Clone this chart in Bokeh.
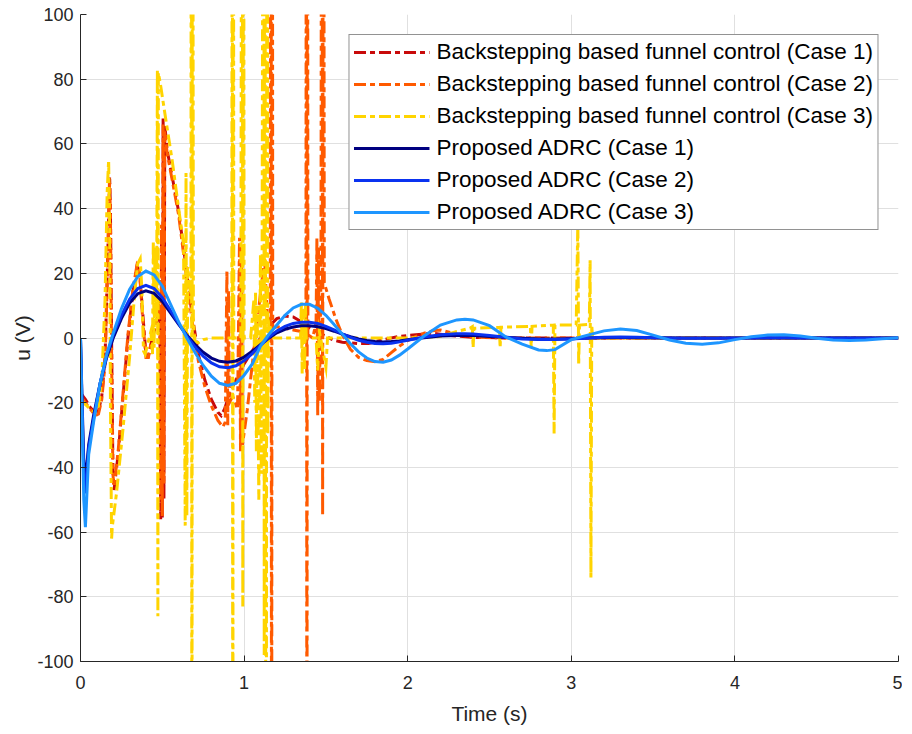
from bokeh.plotting import figure
from bokeh.models import Range1d, FixedTicker, Legend, LegendItem
from bokeh.embed import file_html
from bokeh.resources import INLINE

# ---------------- data ----------------
x_ticks = [0, 1, 2, 3, 4, 5]
y_ticks = [-100, -80, -60, -40, -20, 0, 20, 40, 60, 80, 100]
y_tick_labels = ["-100", "-80", "-60", "-40", "-20", "0", "20", "40", "60", "80", "100"]

labels = [
    "Backstepping based funnel control (Case 1)",
    "Backstepping based funnel control (Case 2)",
    "Backstepping based funnel control (Case 3)",
    "Proposed ADRC (Case 1)",
    "Proposed ADRC (Case 2)",
    "Proposed ADRC (Case 3)",
]

fc1_t = [0.00, 0.03, 0.06, 0.09, 0.11, 0.13, 0.15, 0.165, 0.178, 0.183, 0.19, 0.198, 0.205, 0.23, 0.26, 0.29,
         0.32, 0.345, 0.36, 0.38, 0.40, 0.415, 0.43, 0.45, 0.47, 0.485, 0.49, 0.495, 0.50, 0.505, 0.51, 0.515,
         0.53, 0.56, 0.60, 0.64, 0.68, 0.72, 0.76, 0.80, 0.84, 0.86, 0.88, 0.92, 0.96, 1.00, 1.05, 1.10, 1.15,
         1.20, 1.25, 1.30, 1.35, 1.40, 1.45, 1.50, 1.55, 1.60, 1.70, 1.76, 1.85, 1.95, 2.05, 2.15, 2.25, 2.40,
         2.60, 5.00]
fc1_u = [-17, -19, -21.5, -23, -22.5, -18, -6, 22, 50, 40, 0, -40, -47, -36, -18, 0,
         14, 22, 21, 8, -5, -5.5, -2, 2, 6, 10, -56, 30, -56, 68, -50, 66,
         58, 50, 39, 24, 8, -5, -13, -19, -23, -24, -22, -16, -12, -8, -4, 0, 3.5,
         6, 6.8, 6.5, 5, 3.2, 1.8, 0.5, -0.7, -1.3, -1.7, -1.7, -0.5, 0.5, 1.0, 1.5, 0.8, 0.2,
         0, 0]

fc2_t = [0.00, 0.03, 0.06, 0.09, 0.11, 0.13, 0.15, 0.165, 0.178, 0.183, 0.19, 0.198, 0.205, 0.23, 0.26, 0.29,
         0.32, 0.345, 0.36, 0.38, 0.40, 0.415, 0.43, 0.45, 0.47, 0.485, 0.49, 0.495, 0.50, 0.505, 0.51, 0.515,
         0.53, 0.56, 0.60, 0.64, 0.68, 0.72, 0.76, 0.80, 0.84, 0.87, 0.885, 0.895, 0.90, 0.905, 0.91, 0.93,
         0.96, 0.972, 0.978, 0.985, 0.99, 1.02, 1.05, 1.08, 1.11, 1.125, 1.14, 1.16, 1.165, 1.168, 1.172,
         1.175, 1.20, 1.25, 1.30, 1.35, 1.378, 1.381, 1.384, 1.387, 1.39, 1.42, 1.44, 1.445, 1.45, 1.455,
         1.46, 1.47, 1.475, 1.48, 1.485, 1.49, 1.52, 1.56, 1.60, 1.65, 1.70, 1.75, 1.80, 1.85, 1.90, 1.95,
         2.00, 2.05, 2.10, 2.15, 2.20, 2.30, 2.40, 2.60, 5.00]
fc2_u = [-18, -20, -22, -24, -23.5, -19, -8, 20, 48, 38, -5, -42, -46, -35, -17, 1,
         15, 22.5, 21, 6, -6, -6, -2, 3, 7, 12, -50, 35, -55, 66, -45, 64,
         57, 49, 38, 22, 6, -7, -15, -21, -25.5, -27.5, -26, 21, -27, 15, -20, -18,
         -22, 31, -35, 28, -33, -22, -8, 5, 18, 25, 8, 2, 300, -300, 300,
         3, 3.5, 3, 2.5, 2, 1, 300, -300, 300, 1, 0, 5, 31, -24, 28,
         -20, 20, 300, -55, 300, 17, 12, 6, 1, -3.5, -6, -7, -7.3, -6.6, -4.5, -2.5,
         -0.8, 0.5, 1.5, 2.2, 2.5, 1.2, 0.3, 0, 0]

fc3_t = [0.00, 0.03, 0.06, 0.09, 0.11, 0.13, 0.15, 0.163, 0.172, 0.178, 0.183, 0.19, 0.195, 0.22, 0.26, 0.30,
         0.33, 0.35, 0.365, 0.375, 0.385, 0.395, 0.41, 0.43, 0.44, 0.445, 0.45, 0.455, 0.465, 0.47, 0.473,
         0.476, 0.49, 0.52, 0.56, 0.60, 0.63, 0.64, 0.645, 0.65, 0.655, 0.675, 0.678, 0.681, 0.684, 0.69,
         0.70, 0.72, 0.75, 0.80, 0.90, 0.925, 0.928, 0.931, 0.934, 0.937, 0.98, 0.988, 0.992, 0.996, 1.00,
         1.04, 1.06, 1.065, 1.07, 1.075, 1.08, 1.09, 1.10, 1.105, 1.11, 1.12, 1.123, 1.126, 1.135, 1.14,
         1.145, 1.15, 1.18, 1.30, 1.345, 1.35, 1.355, 1.36, 1.37, 1.375, 1.38, 1.44, 1.45, 1.46, 1.50, 1.51,
         1.60, 2.00, 2.15, 2.20, 2.30, 2.38, 2.395, 2.40, 2.405, 2.56, 2.565, 2.57, 2.75, 2.755, 2.76, 2.89,
         2.895, 2.90, 3.03, 3.04, 3.045, 3.05, 3.11, 3.115, 3.12, 3.125, 3.13, 5.00]
fc3_u = [-19, -20.5, -22, -23, -21, -13, 12, 45, 55, 35, -20, -62, -58, -48, -28, -6,
         13, 23, 24.5, 15, -4, -5, -2, 2, -5, 30, -3, 28, 5, 83, -86,
         82, 78, 68, 55, 40, 29, -58, 51, -55, 22, 12, 300, -300, 300, 5,
         -1, -1.5, -0.5, 0, 0, 0, 300, -300, 300, 0, 0, 300, -83, 300, 0,
         0, 12, -20, 14, -35, 10, -50, 26, -42, 20, 300, -98, 300, -300, 300,
         -30, 5, 0, 0, 0, 11, -11, 9, -10, 10, 0, 0, -10, 2, -9, 0,
         0, 0, 0.3, 0.5, 2, 3, 3.5, -3, 3, 3.3, -3, 3.3, 3.6, -3, 3.6, 4,
         -29.5, 4, 4, 36, -8.5, 4, 4.2, 24, -74, 4, 0, 0]

adrc_t = [0.00, 0.01, 0.02, 0.03, 0.05, 0.08, 0.12, 0.16, 0.20, 0.25, 0.30, 0.35, 0.40, 0.45, 0.50, 0.55,
          0.60, 0.65, 0.70, 0.75, 0.80, 0.85, 0.90, 0.95, 1.00, 1.05, 1.10, 1.15, 1.20, 1.25, 1.30, 1.35,
          1.40, 1.45, 1.50, 1.55, 1.60, 1.65, 1.70, 1.75, 1.80, 1.85, 1.90, 1.95, 2.00, 2.10, 2.20, 2.30,
          2.35, 2.40, 2.50, 2.60, 2.70, 2.80, 2.85, 2.90, 3.00, 3.10, 3.20, 3.30, 3.40, 3.50, 3.60, 3.70,
          3.80, 3.90, 4.00, 4.10, 4.20, 4.30, 4.40, 4.50, 4.60, 4.70, 4.80, 4.90, 5.00]
adrc1_u = [0, -20, -38, -44, -33, -24, -14, -6, 0, 6, 10.8, 13.7, 14.6, 13.8, 11.3, 7.8,
           4.2, 0.9, -2.0, -4.4, -6.2, -7.2, -7.5, -7.1, -5.9, -4.1, -2.1, -0.1, 1.6, 2.7, 3.4, 3.8,
           3.8, 3.5, 2.9, 2.1, 1.2, 0.4, -0.3, -0.8, -1.1, -1.2, -1.1, -0.9, -0.5, 0.1, 0.6, 0.8,
           0.8, 0.8, 0.5, 0.2, -0.1, -0.3, -0.3, -0.3, -0.2, 0, 0.1, 0.15, 0.1, 0.05, 0, 0,
           0, 0, 0, 0, 0, 0, 0, 0, 0, 0, 0, 0, 0]
adrc2_u = [0, -22, -42, -48, -34, -25, -14, -5.5, 1, 7, 12, 15.3, 16.3, 15.3, 12.5, 8.5,
           4.5, 0.6, -2.8, -5.6, -7.7, -8.9, -9.2, -8.6, -7.0, -4.8, -2.3, 0.2, 2.2, 3.6, 4.5, 4.9,
           4.9, 4.5, 3.6, 2.5, 1.3, 0.2, -0.7, -1.3, -1.7, -1.8, -1.6, -1.2, -0.7, 0.3, 1.0, 1.3,
           1.3, 1.2, 0.8, 0.2, -0.3, -0.5, -0.5, -0.5, -0.3, 0, 0.2, 0.3, 0.2, 0.1, 0, -0.1,
           -0.1, -0.1, 0, 0, 0.05, 0.05, 0, 0, 0, 0, 0, 0, 0]
adrc3_u = [0, -25, -50, -58.5, -36, -26, -14, -5, 1.5, 9, 15, 19, 20.7, 19.5, 16, 10.5,
           5, 0, -4.5, -8.5, -11.8, -14, -14.7, -14, -11.5, -8, -2.5, 1.0, 4, 7, 9.3, 10.4,
           10.4, 9.2, 7, 4.2, 1.2, -1.8, -4.3, -6.2, -7.3, -7.5, -6.8, -5.3, -3.4, 0.6, 4.0, 5.6,
           5.8, 5.6, 3.8, 0.3, -1.9, -3.7, -3.9, -3.6, -0.5, 0.9, 2.2, 2.8, 2.3, 0.9, -0.6, -1.6,
           -1.9, -1.5, -0.5, 0.4, 0.9, 1.0, 0.6, -0.1, -0.6, -0.8, -0.6, -0.2, 0.1]

colors = ["#C80A0A", "#FF5A00", "#FFD400", "#000080", "#0A32F0", "#1E96FF"]

# ---------------- figure ----------------
FONT = "Liberation Sans"
p = figure(frame_width=818, frame_height=647, output_backend="svg", toolbar_location=None,
           x_range=Range1d(0, 5), y_range=Range1d(-100, 100),
           min_border_left=80, min_border_right=4, min_border_top=14, min_border_bottom=60)
p.outline_line_color = None
p.background_fill_color = "white"
p.border_fill_color = "white"

for ax in (p.xaxis[0], p.yaxis[0]):
    ax.axis_line_color = "#262626"
    ax.axis_line_width = 1
    ax.major_tick_line_color = "#262626"
    ax.major_tick_in = 6
    ax.major_tick_out = 0
    ax.minor_tick_line_color = None
    ax.major_label_text_font = FONT
    ax.major_label_text_font_size = "18px"
    ax.major_label_text_color = "#262626"
    ax.axis_label_text_font = FONT
    ax.axis_label_text_font_size = "21px"
    ax.axis_label_text_font_style = "normal"
    ax.axis_label_text_color = "#262626"

p.xaxis.ticker = FixedTicker(ticks=x_ticks)
p.yaxis.ticker = FixedTicker(ticks=y_ticks)
p.yaxis.major_label_overrides = {v: s for v, s in zip(y_ticks, y_tick_labels)}
p.xaxis.axis_label = "Time (s)"
p.yaxis.axis_label = "u (V)"
p.xaxis.major_label_standoff = 14
p.xaxis.axis_label_standoff = 10
p.yaxis.major_label_standoff = 7
p.yaxis.axis_label_standoff = 0

p.grid.grid_line_color = "#E0E0E0"
p.grid.grid_line_width = 1

dash = "12 4 5 4"
series = [
    (fc1_t, fc1_u, dash),
    (fc2_t, fc2_u, dash),
    (fc3_t, fc3_u, dash),
    (adrc_t, adrc1_u, "solid"),
    (adrc_t, adrc2_u, "solid"),
    (adrc_t, adrc3_u, "solid"),
]
items = []
for (t, u, ld), c, lab in zip(series, colors, labels):
    r = p.line(t, u, line_color=c, line_width=3, line_dash=ld, line_join="miter")
    items.append(LegendItem(label=lab, renderers=[r]))

legend = Legend(items=items, location="top_right", margin=20)
legend.border_line_color = "#262626"
legend.border_line_width = 1
legend.background_fill_color = "white"
legend.background_fill_alpha = 1
legend.label_text_font = FONT
legend.label_text_font_size = "22.5px"
legend.label_text_color = "black"
legend.glyph_width = 76
legend.glyph_height = 26
legend.label_height = 26
legend.label_standoff = 7
legend.spacing = 6
legend.padding = 4
p.add_layout(legend)

open("out.html", "w").write(file_html(p, INLINE))
